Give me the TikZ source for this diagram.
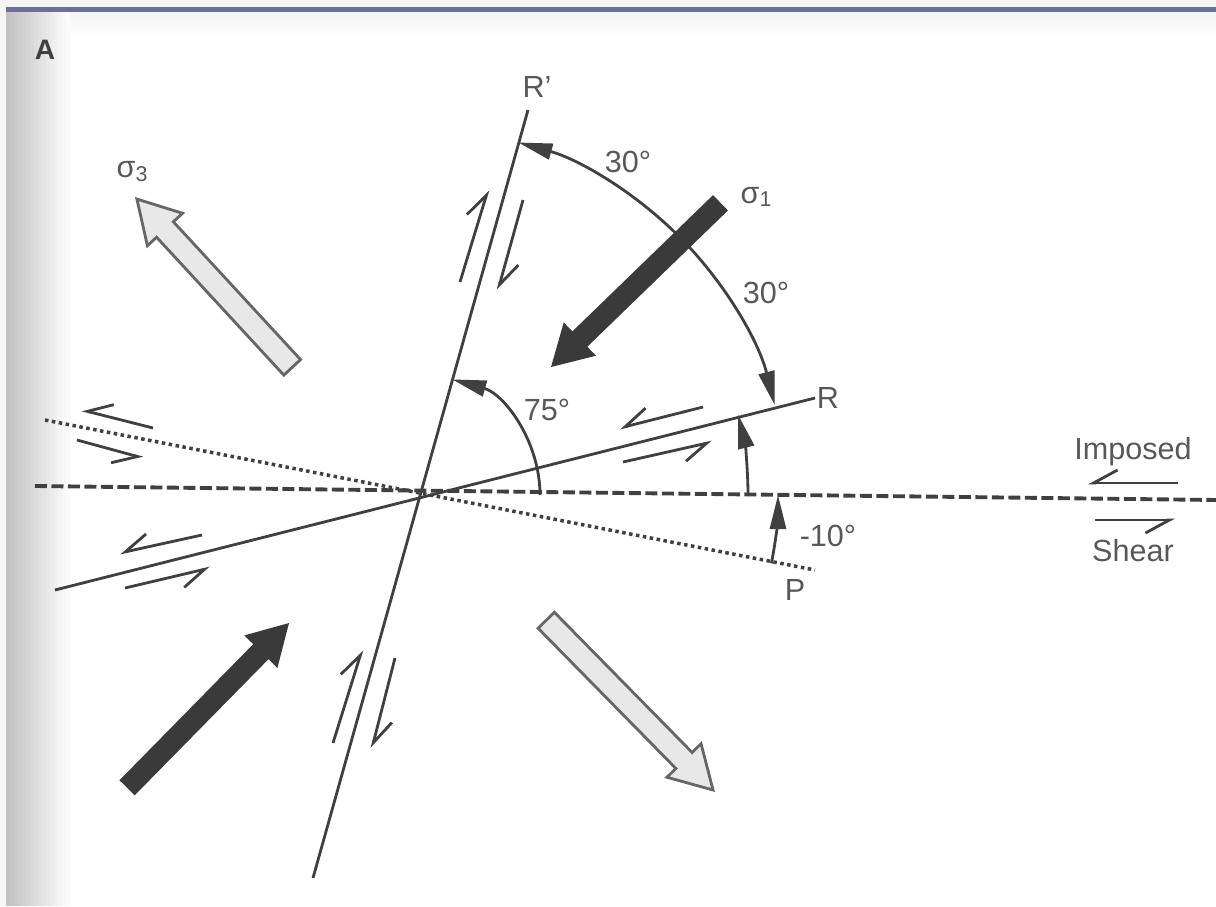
\documentclass[tikz,border=0pt]{standalone}
\usepackage{fontspec}
\setmainfont{Liberation Sans}
\usetikzlibrary{arrows.meta, shapes.arrows}

\definecolor{ink}{HTML}{404040}
\definecolor{txt}{HTML}{585858}
\definecolor{hollow}{HTML}{E8E8E8}
\definecolor{rim}{HTML}{6B7095}

\tikzset{
  fault/.style={ink, line width=0.8pt},
  half/.style={ink, line width=0.8pt, -{Straight Barb[harpoon, length=0.24cm, width=0.26cm]}},
  halfswap/.style={ink, line width=0.8pt, -{Straight Barb[harpoon, swap, length=0.24cm, width=0.26cm]}},
  angarrow/.style={ink, line width=0.8pt, -{Triangle[length=0.34cm, width=0.16cm]}},
  lbl/.style={txt, font=\fontsize{8.7}{10}\selectfont, inner sep=1pt},
  fat/.style={shape=single arrow, anchor=tip, inner sep=0.1cm,
    single arrow head extend=0.125cm, single arrow tip angle=60},
  sigone/.style={fat, fill=ink!90!black, draw=none},
  sigthree/.style={fat, fill=hollow, draw=ink!80, line width=0.8pt},
}

\begin{document}
\begin{tikzpicture}

\useasboundingbox (-4.20,-4.11) rectangle (7.96,4.95);

% Scan edges
\foreach \i in {0,...,7}
  \fill[rim!\fpeval{8-\i}] (-4.14,4.84-0.03*\i) rectangle (7.96,4.81-0.03*\i);
\fill[gray!7] (-4.20,-4.11) rectangle (-4.14,4.95);
\foreach \i in {0,...,15}
  \fill[black!\fpeval{24-1.5*\i}] (-4.14+0.04*\i,-4.11) rectangle (-4.10+0.04*\i,4.85);
\fill[gray!8] (-4.20,4.87) rectangle (7.96,4.95);
\draw[rim, line width=1.2pt] (-4.14,4.855) -- (7.96,4.855);

% Center
\coordinate (O) at (0,0);

% Imposed shear plane
\draw[ink, line width=1.1pt, dash pattern=on 0.12cm off 0.045cm] (-3.85,0.09) -- (7.96,-0.05);

% P shears
\draw[ink, line width=1pt, dash pattern=on 0.035cm off 0.035cm] (-3.75,0.75) -- (3.95,-0.75);

% R and R' shears
\draw[fault] (-3.65,-0.95) -- (3.95,0.97);
\draw[fault] (1.08,3.85) -- (-1.07,-3.83);

% Angles
\draw[angarrow] (45:3.66) arc (45:74.4:3.66);
\draw[angarrow] (45:3.66) arc (45:14.2:3.66);
\draw[angarrow] (0:1.2) arc (0:74.4:1.2);
\draw[angarrow] (0:3.28) arc (0:14.2:3.28);
\draw[angarrow] (-11:3.58) arc (-11:0:3.58);

% Shear sense
\foreach \a/\b in {{-2.67,0.67}/{-3.38,0.85}, {-3.43,0.55}/{-2.77,0.37},
                   {-2.18,-0.40}/{-3.00,-0.58}, {-2.95,-0.93}/{-2.10,-0.73},
                   {2.83,0.88}/{2.00,0.67}, {2.03,0.33}/{2.92,0.53},
                   {7.58,0.12}/{6.68,0.12}, {6.75,-0.25}/{7.55,-0.25}}
  \draw[halfswap] (\a) -- (\b);
\foreach \a/\b in {{0.40,2.13}/{0.68,3.05}, {1.03,2.95}/{0.78,2.05},
                   {-0.87,-2.48}/{-0.58,-1.55}, {-0.25,-1.63}/{-0.48,-2.53}}
  \draw[half] (\a) -- (\b);

% Principal stresses
\node[sigone, rotate=224.1, minimum height=2.36cm] (s1a) at (1.30,1.27) {};
\node[sigone, rotate=45.5, minimum height=2.31cm] (s1b) at (-1.30,-1.27) {};
\node[sigthree, rotate=132.7, minimum height=2.29cm] (s3a) at (-2.85,2.98) {};
\node[sigthree, rotate=-45.5, minimum height=2.38cm] (s3b) at (2.95,-2.97) {};

% Labels
\node[ink, font=\bfseries\fontsize{8}{9}\selectfont] (panel) at (-3.75,4.45) {A};
\node[lbl] (Rp) at (1.17,4.08) {R'};
\node[lbl] (R) at (4.08,0.97) {R};
\node[lbl] (P) at (3.75,-0.95) {P};
\node[lbl] (sig1) at (3.37,2.98) {σ\textsubscript{1}};
\node[lbl] (sig3) at (-2.87,3.23) {σ\textsubscript{3}};
\node[lbl] (a30t) at (2.08,3.33) {30°};
\node[lbl] (a30r) at (3.46,2.02) {30°};
\node[lbl] (a75) at (1.27,0.85) {75°};
\node[lbl] (a10) at (4.08,-0.41) {-10°};
\node[lbl] (imposed) at (7.13,0.43) {Imposed};
\node[lbl] (shear) at (7.13,-0.56) {Shear};

\end{tikzpicture}
\end{document}
